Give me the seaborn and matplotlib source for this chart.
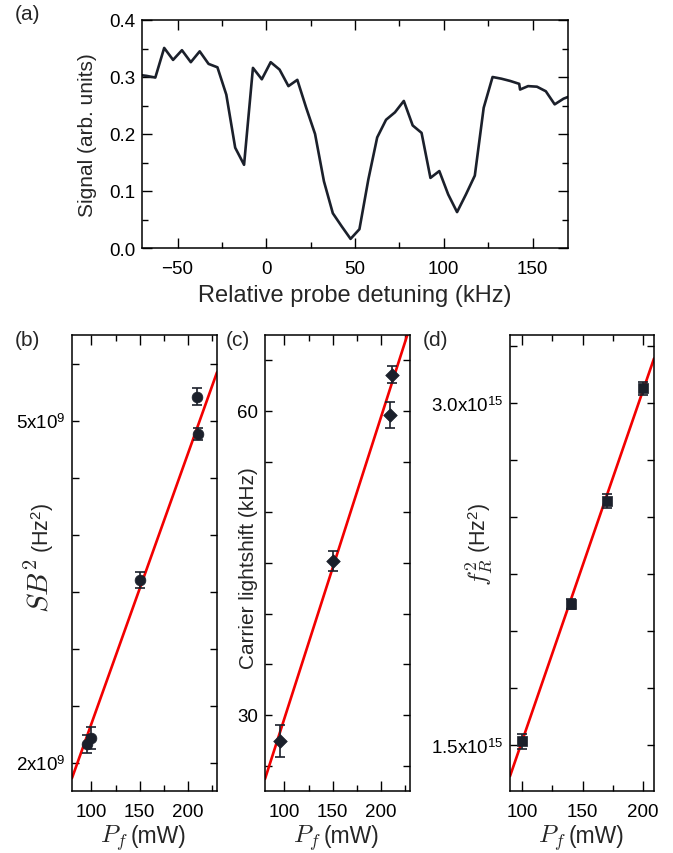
import numpy as np
import matplotlib
matplotlib.use("Agg")
import matplotlib.pyplot as plt
import seaborn as sns

# ---- data -------------------------------------------------------------
# (a) spectrum
detuning = [-72.5, -67.5, -62.5, -57.5, -52.5, -47.5, -42.5, -37.5, -32.5, -27.5,
            -22.5, -17.5, -12.5, -7.5, -2.5, 2.5, 7.5, 12.5, 17.5, 22.5,
            27.5, 32.5, 37.5, 42.5, 47.5, 52.5, 57.5, 62.5, 67.5, 72.5,
            77.5, 82.5, 87.5, 92.5, 97.5, 102.5, 107.5, 112.5, 117.5, 122.5,
            127.5, 132.5, 137.5, 142.5, 143.0, 147.5, 152.5, 157.5, 162.5, 167.5, 172.5]
signal = [0.304, 0.302, 0.299, 0.351, 0.330, 0.347, 0.326, 0.345, 0.323, 0.317,
          0.269, 0.176, 0.146, 0.316, 0.296, 0.326, 0.313, 0.284, 0.295, 0.246,
          0.200, 0.117, 0.061, 0.038, 0.016, 0.033, 0.120, 0.194, 0.225, 0.238,
          0.258, 0.215, 0.202, 0.123, 0.135, 0.094, 0.063, 0.094, 0.127, 0.246,
          0.300, 0.297, 0.293, 0.288, 0.278, 0.284, 0.283, 0.275, 0.252, 0.262, 0.268]

# (b) sideband squared
pb = [96, 100, 150, 209, 210]
sb2 = [2.165e9, 2.215e9, 3.60e9, 5.21e9, 4.88e9]
sb2_err = [0.08e9, 0.10e9, 0.07e9, 0.075e9, 0.05e9]
fit_b = (-0.035e9, 0.02373e9)

# (c) carrier lightshift
pc = [95, 150, 209.5, 211]
shift = [27.45, 45.2, 59.6, 63.6]
shift_err = [1.6, 1.0, 1.3, 0.8]
fit_c = (-0.12, 0.2976)

# (d) f_R squared
pd_ = [100, 140, 170, 200]
fr2 = [1.518e15, 2.121e15, 2.572e15, 3.066e15]
fr2_err = [0.033e15, 0.022e15, 0.03e15, 0.03e15]
fit_d = (-0.0206e15, 0.015395e15)

# tick labels
b_yticks = [2.0e9, 2.5e9, 3.0e9, 3.5e9, 4.0e9, 4.5e9, 5.0e9, 5.5e9]
b_ylabels = ["2x10$^9$", "", "", "", "", "", "5x10$^9$", ""]
c_yticks = [25, 30, 35, 40, 45, 50, 55, 60, 65]
c_ylabels = ["", "30", "", "", "", "", "", "60", ""]
d_yticks = [1.5e15, 1.75e15, 2.0e15, 2.25e15, 2.5e15, 2.75e15, 3.0e15, 3.25e15]
d_ylabels = ["1.5x10$^{15}$", "", "", "", "", "", "3.0x10$^{15}$", ""]

# ---- style -------------------------------------------------------------
sns.set_style("ticks")
plt.rcParams["font.family"] = ["Liberation Sans", "DejaVu Sans"]
plt.rcParams["mathtext.fontset"] = "custom"
plt.rcParams["mathtext.rm"] = "Liberation Sans"
plt.rcParams["mathtext.it"] = "Liberation Serif:italic"
plt.rcParams["axes.linewidth"] = 1.1

dark = "#1b202b"
red = "#f20000"
W, H = 673, 854
fig = plt.figure(figsize=(W / 100, H / 100), dpi=100)


def box(l, t, r, b):
    return [l / W, 1 - b / H, (r - l) / W, (b - t) / H]


def style_axes(ax):
    ax.tick_params(which="both", direction="in", top=True, right=True,
                   labelsize=13.5, width=1.0, colors="black")
    ax.tick_params(axis="x", which="both", pad=9)
    ax.tick_params(axis="y", which="both", pad=5)
    ax.tick_params(which="major", length=7)
    ax.tick_params(which="minor", length=4)
    for s in ax.spines.values():
        s.set_color("black")


# (a)
ax = fig.add_axes(box(142, 21, 568, 249))
sns.lineplot(x=detuning, y=signal, ax=ax, sort=False, estimator=None,
             color=dark, lw=1.9)
ax.set_xlim(-70, 170)
ax.set_ylim(0, 0.4)
ax.set_xticks([-50, 0, 50, 100, 150])
ax.set_xticks([-25, 25, 75, 125], minor=True)
ax.set_yticks([0.0, 0.1, 0.2, 0.3, 0.4])
ax.set_yticklabels(["0.0", "0.1", "0.2", "0.3", "0.4"])
ax.set_yticks([0.05, 0.15, 0.25, 0.35], minor=True)
style_axes(ax)
ax.set_xlabel("Relative probe detuning (kHz)", fontsize=17, labelpad=5)
ax.set_ylabel("Signal (arb. units)", fontsize=15)
ax.yaxis.set_label_coords(-0.106, 0.5)
fig.text(28 / W, 1 - 15 / H, "(a)", fontsize=15, ha="center", va="center")


def power_panel(pos, x, y, yerr, fit, marker, msize, xlim, ylim,
                yticks, ylabels, tag, tag_x):
    ax = fig.add_axes(pos)
    xs = np.linspace(xlim[0], xlim[1], 50)
    sns.lineplot(x=xs, y=fit[0] + fit[1] * xs, ax=ax, color=red, lw=1.9,
                 zorder=2)
    ax.errorbar(x, y, yerr=yerr, fmt="none", ecolor=dark, elinewidth=1.2,
                capsize=3.5, capthick=1.2, zorder=3)
    sns.scatterplot(x=x, y=y, ax=ax, marker=marker, s=msize, color=dark,
                    edgecolor=dark, linewidth=0.5, zorder=4)
    ax.set_xlim(*xlim)
    ax.set_ylim(*ylim)
    ax.set_xticks([100, 150, 200])
    ax.set_xticks([t for t in [75, 125, 175, 225] if xlim[0] < t < xlim[1]], minor=True)
    ax.set_yticks(yticks)
    ax.set_yticklabels(ylabels)
    style_axes(ax)
    ax.tick_params(axis="y", which="major", length=5)
    # x label: italic symbol + unit
    ax.text(0.385, -0.112, "$P_f$", transform=ax.transAxes, fontsize=18,
            math_fontfamily="cm", ha="right", va="baseline")
    ax.text(0.405, -0.112, "(mW)", transform=ax.transAxes, fontsize=16.5,
            ha="left", va="baseline")
    fig.text(tag_x / W, 1 - 340 / H, tag, fontsize=15, ha="center", va="center")
    return ax


def math_ylabel(ax, sym, size, xpos):
    ax.text(xpos, 0.512, sym, transform=ax.transAxes, fontsize=size,
            math_fontfamily="cm", rotation=90, rotation_mode="anchor",
            ha="right", va="baseline")
    ax.text(xpos, 0.525, "(Hz$^2$)", transform=ax.transAxes, fontsize=15.5,
            rotation=90, rotation_mode="anchor", ha="left", va="baseline")


axb = power_panel(box(72, 336, 217, 792), pb, sb2, sb2_err, fit_b, "o", 60,
                  (80, 230), (1.75e9, 5.75e9), b_yticks, b_ylabels, "(b)", 27)
math_ylabel(axb, "$SB^2$", 21, -0.16)

axc = power_panel(box(265, 336, 410, 792), pc, shift, shift_err, fit_c, "D", 48,
                  (80, 230), (22.5, 67.5), c_yticks, c_ylabels, "(c)", 238)
axc.set_ylabel("Carrier lightshift (kHz)", fontsize=15)
axc.yaxis.set_label_coords(-0.05, 0.49)

axd = power_panel(box(510, 336, 654, 792), pd_, fr2, fr2_err, fit_d, "s", 42,
                  (90, 209), (1.3e15, 3.3e15), d_yticks, d_ylabels, "(d)", 436)
math_ylabel(axd, "$f_R^2$", 18, -0.165)

fig.savefig("out.png", dpi=100)
